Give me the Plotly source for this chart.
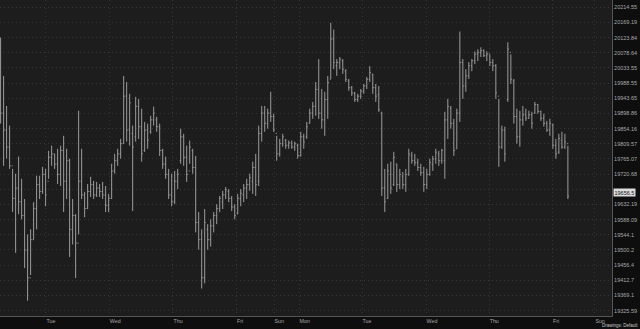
import math
import plotly.graph_objects as go

# OHLC bars (one per ~30 min slot)
highs = [20124,20010,19921,19863,19736,19722,19772,19707,19648,19545,
         19560,19639,19716,19716,19742,19736,19789,19804,19780,19795,
         19804,19833,19795,19766,19648,19604,19907,19795,19669,19692,
         19713,19701,19698,19692,19698,19686,19663,19751,19780,19795,
         19824,20010,19992,19957,19863,19948,19942,19913,19874,19869,
         19892,19919,19889,19869,19795,19772,19736,19722,19730,19736,
         19854,19839,19804,19819,19795,19774,19610,19560,19619,19575,
         19589,19610,19633,19657,19672,19683,19677,19657,19633,19663,
         19677,19692,19707,19722,19757,19780,19863,19921,19921,19913,
         19963,19898,19833,19824,19839,19824,19819,19819,19816,19810,
         19845,19839,19874,19913,19933,19992,20060,19971,19963,20010,
         20168,20148,20060,20066,20060,20030,20001,19980,19963,19957,
         19971,19986,20007,20039,20016,19986,19980,19904,19736,19751,
         19757,19786,19751,19736,19727,19736,19795,19786,19780,19766,
         19751,19742,19736,19766,19774,19795,19789,19795,19904,19942,
         19921,19883,19913,20142,20060,20030,20051,20060,20083,20089,
         20095,20089,20083,20074,20060,20045,19942,19863,19860,20110,
         20074,20001,19913,19907,19921,19913,19907,19904,19933,19927,
         19907,19898,19877,19883,19869,19824,19839,19845,19839,19804]
lows = [19869,19745,19766,19736,19610,19492,19604,19589,19448,19354,
        19428,19530,19560,19648,19663,19627,19707,19745,19736,19692,
        19686,19610,19648,19480,19516,19419,19545,19648,19595,19619,
        19654,19648,19654,19654,19648,19610,19610,19648,19722,19745,
        19766,19810,19816,19804,19613,19816,19824,19757,19786,19795,
        19839,19863,19845,19774,19736,19707,19648,19627,19633,19677,
        19751,19745,19698,19751,19722,19551,19501,19389,19404,19501,
        19510,19551,19575,19610,19619,19648,19639,19613,19589,19604,
        19627,19639,19648,19672,19663,19657,19686,19816,19845,19854,
        19874,19845,19760,19772,19801,19795,19795,19795,19789,19766,
        19772,19795,19824,19869,19883,19892,19883,19854,19833,19883,
        20001,20030,20010,20030,20016,19992,19966,19951,19933,19933,
        19942,19957,19971,19992,19957,19933,19904,19657,19610,19648,
        19663,19686,19669,19677,19677,19669,19716,19751,19745,19730,
        19716,19669,19677,19716,19730,19751,19745,19751,19707,19824,
        19854,19774,19795,19874,19942,19963,20001,20024,20045,20054,
        20066,20066,20054,20039,20024,19942,19742,19795,19757,19933,
        19986,19869,19810,19801,19863,19877,19883,19854,19898,19898,
        19877,19860,19845,19833,19795,19766,19780,19795,19795,19648]
opens = [20100,19900,19850,19800,19745,19650,19680,19640,19600,19500,
         19420,19530,19620,19690,19670,19720,19700,19770,19780,19750,
         19720,19790,19700,19760,19560,19600,19520,19700,19660,19620,
         19670,19690,19660,19680,19670,19660,19630,19650,19730,19760,
         19780,19810,19950,19850,19840,19830,19920,19860,19790,19850,
         19845,19880,19880,19860,19790,19750,19720,19660,19640,19700,
         19760,19830,19770,19730,19790,19740,19580,19530,19420,19560,
         19530,19570,19600,19620,19640,19660,19670,19650,19625,19605,
         19650,19660,19680,19690,19700,19740,19700,19840,19900,19870,
         19900,19890,19840,19780,19810,19820,19805,19812,19800,19805,
         19775,19830,19830,19870,19900,19920,19970,19900,19880,19940,
         20000,20120,20040,20050,20055,20025,19995,19975,19958,19940,
         19950,19965,19980,20000,20015,19975,19955,19900,19680,19650,
         19720,19690,19750,19690,19715,19690,19720,19775,19760,19755,
         19740,19725,19690,19720,19750,19765,19780,19760,19760,19880,
         19915,19870,19795,19900,20050,19980,20010,20040,20055,20075,
         20080,20085,20070,20075,20050,20040,19950,19800,19850,19940,
         20080,19995,19890,19830,19880,19895,19885,19895,19900,19925,
         19905,19885,19870,19850,19865,19805,19785,19820,19800,19810]
closes = [19900,19850,19800,19745,19650,19680,19640,19600,19500,19420,
          19530,19620,19690,19670,19720,19660,19770,19780,19750,19720,
          19790,19700,19760,19560,19600,19520,19700,19660,19620,19670,
          19690,19660,19680,19670,19660,19630,19650,19730,19760,19780,
          19810,19950,19850,19930,19800,19920,19860,19780,19850,19820,
          19880,19900,19860,19790,19750,19720,19660,19640,19700,19720,
          19830,19770,19720,19800,19740,19580,19530,19420,19580,19530,
          19570,19600,19620,19650,19660,19675,19650,19625,19600,19650,
          19665,19680,19690,19710,19740,19690,19840,19900,19870,19900,
          19890,19850,19780,19810,19830,19805,19812,19800,19810,19775,
          19830,19815,19860,19900,19920,19970,19900,19880,19940,19990,
          20120,20050,20050,20060,20030,20000,19975,19960,19940,19950,
          19965,19980,20000,20020,19975,19950,19910,19680,19640,19730,
          19680,19770,19690,19720,19690,19720,19780,19760,19755,19740,
          19725,19690,19720,19755,19765,19785,19760,19790,19880,19920,
          19870,19790,19900,20050,19980,20010,20040,20055,20075,20080,
          20085,20070,20075,20050,20040,19960,19800,19850,19780,20090,
          20000,19890,19830,19880,19895,19885,19895,19870,19925,19905,
          19885,19870,19850,19870,19805,19780,19825,19800,19815,19656.5]
bar_index = list(range(len(closes)))

# Axis ticks
day_tick_pos = [15.1, 36.23, 57.43, 78.57, 91.1, 99.43, 120.43, 141.77, 162.77, 183.9, 198.0]
day_labels = ["Tue", "Wed", "Thu", "Fri", "Sun", "Mon", "Tue", "Wed", "Thu", "Fri", "Sun"]
price_ticks = [20214.55, 20169.19, 20123.84, 20078.64, 20033.55, 19988.55, 19943.65,
               19898.86, 19854.16, 19809.57, 19765.07, 19720.68, 19676.39, 19632.19,
               19588.09, 19544.1, 19500.2, 19456.4, 19412.7, 19369.1, 19325.59]
price_labels = ["20214.55", "20169.19", "20123.84", "20078.64", "20033.55", "19988.55", "19943.65",
                "19898.86", "19854.16", "19809.57", "19765.07", "19720.68", "", "19632.19",
                "19588.09", "19544.1", "19500.2", "19456.4", "19412.7", "19369.1", "19325.59"]
last_price = closes[-1]

BAR = "#9c9c9c"
fig = go.Figure(go.Ohlc(
    x=bar_index, open=opens, high=highs, low=lows, close=closes,
    increasing=dict(line=dict(color=BAR, width=1)),
    decreasing=dict(line=dict(color=BAR, width=1)),
    tickwidth=0.35, hoverinfo="skip",
))

FAM = "Liberation Sans, Arial, sans-serif"
yfont = dict(family=FAM, size=5.5, color="#a8a8a8")
xfont = dict(family=FAM, size=5.3, color="#a8a8a8")
GRID = "#363636"
fig.update_layout(
    width=640, height=329,
    margin=dict(l=0, r=28, t=0, b=13),
    paper_bgcolor="#0e0e0e", plot_bgcolor="#1d1d1d",
    showlegend=False, font=yfont,
    xaxis=dict(
        range=[-0.2, 203.7], rangeslider=dict(visible=False),
        tickmode="array", tickvals=day_tick_pos, ticktext=day_labels,
        ticklabelposition="outside right", ticks="", tickfont=xfont,
        showgrid=True, gridcolor=GRID, griddash="1px,3px", gridwidth=1,
        showline=True, linecolor="#555555", linewidth=1, zeroline=False,
        fixedrange=True,
    ),
    yaxis=dict(
        type="log", side="right",
        range=[4.285787, 4.306135],
        tickmode="array", tickvals=price_ticks, ticktext=price_labels,
        ticks="", tickfont=yfont,
        showgrid=True, gridcolor=GRID, griddash="1px,3px", gridwidth=1,
        showline=True, linecolor="#555555", linewidth=1, zeroline=False,
        fixedrange=True,
    ),
    annotations=[
        dict(xref="paper", yref="y", x=1, y=math.log10(last_price), yshift=4,
             xanchor="left", yanchor="middle", xshift=1,
             text="19656.5", showarrow=False, bgcolor="#dcdcdc",
             font=dict(family=FAM, size=5.5, color="#111111"),
             borderpad=0.5),
        dict(xref="paper", yref="paper", x=1.0449, y=0, yshift=-13,
             xanchor="right", yanchor="bottom", borderpad=0,
             text="Drawings: Default", showarrow=False,
             font=dict(family=FAM, size=4.5, color="#c8c8c8")),
    ],
)

fig.write_html("out.html", config={"displayModeBar": False})
